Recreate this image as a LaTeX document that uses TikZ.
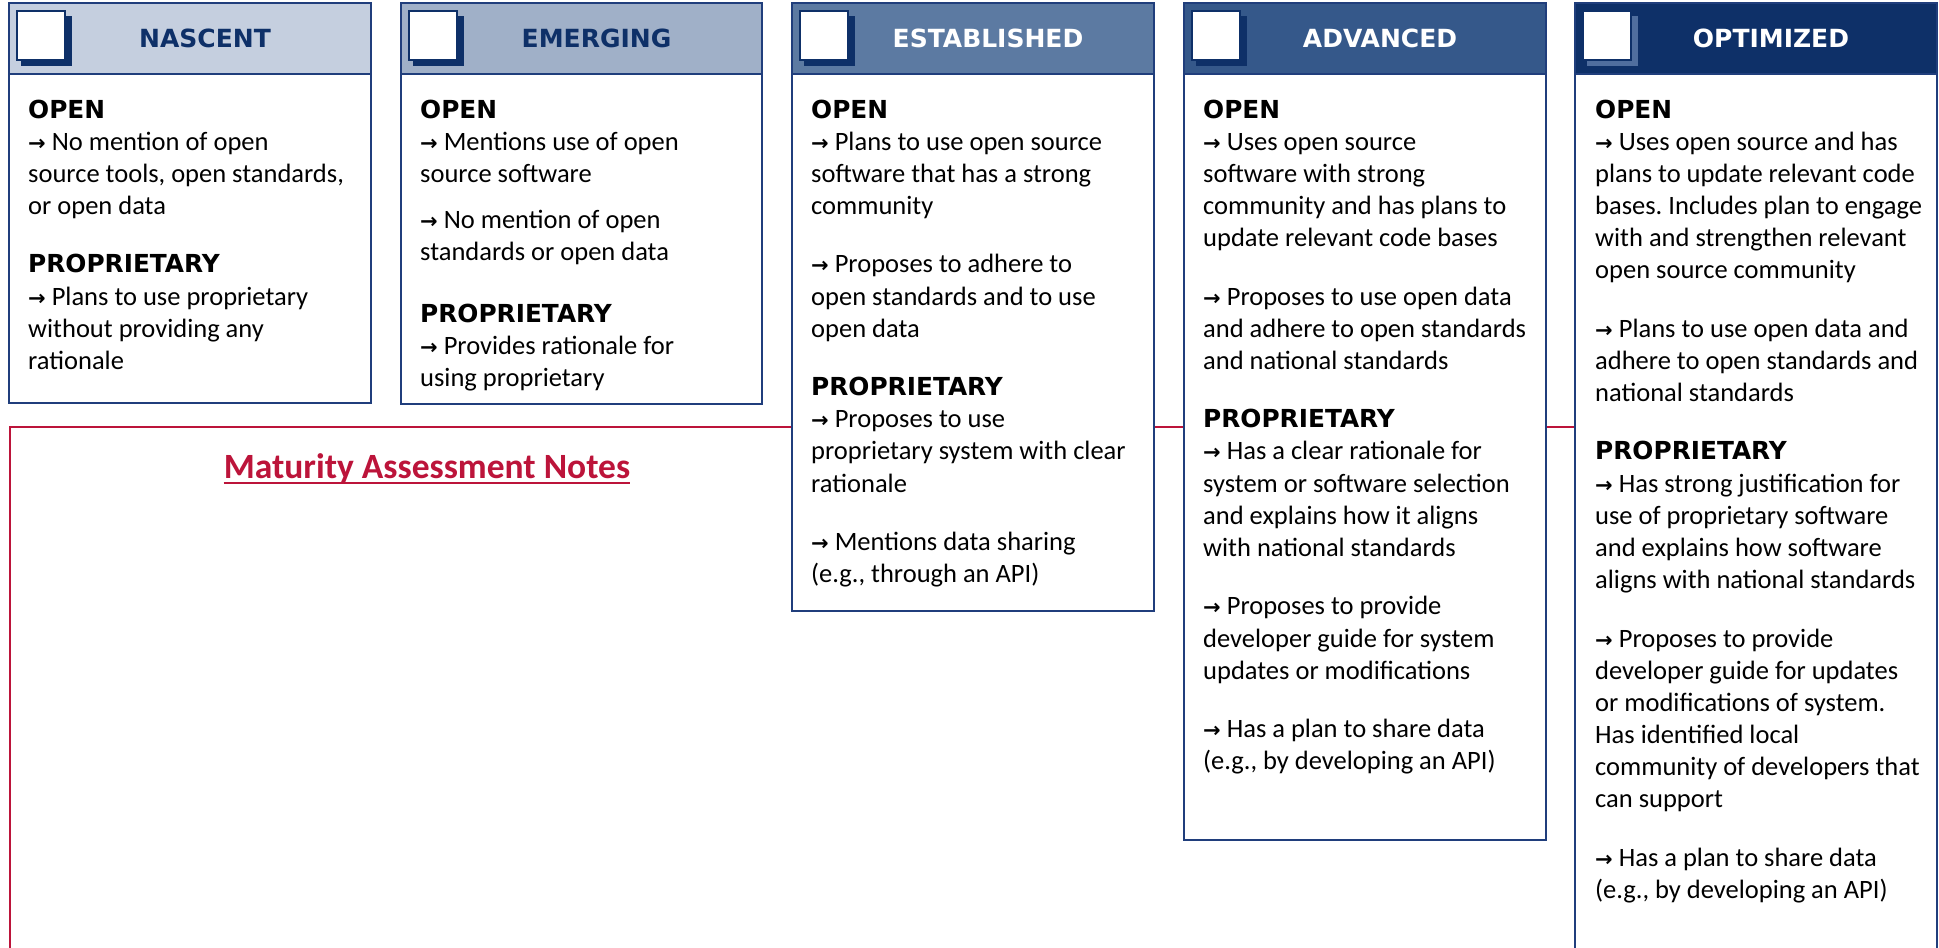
\documentclass[tikz,border=0pt]{standalone}
\usepackage{fontspec}
\setmainfont{Carlito}
\newfontfamily\headfont{DejaVu Sans}
\newfontfamily\arrowfont{DejaVu Sans}
\frenchspacing

\definecolor{navy}{RGB}{14,48,104}
\definecolor{lvlA}{RGB}{197,207,223}
\definecolor{lvlB}{RGB}{160,176,200}
\definecolor{lvlC}{RGB}{92,122,162}
\definecolor{lvlD}{RGB}{53,88,138}
\definecolor{lvlE}{RGB}{14,48,104}
\definecolor{cardline}{RGB}{32,62,124}
\definecolor{notered}{RGB}{188,20,58}
\definecolor{shadowlight}{RGB}{80,110,158}

% body text of a card: first baseline sits on the node's base
\newcommand\cardtext[1]{\vtop{\hsize=420pt\parskip=0pt\parindent=0pt\raggedright
  \fontsize{26.5}{32.15}\selectfont\noindent #1\par}}
\newcommand\hd[1]{{\headfont\bfseries\fontsize{24.8}{32.15}\selectfont #1}}
\newcommand\ar{{\arrowfont\bfseries\fontsize{21}{32.15}\selectfont →}\ }
\newcommand\gap{26.3pt}

\tikzset{
  cardframe/.style={draw=cardline, line width=2pt},
  leveltitle/.style={font=\headfont\bfseries\fontsize{25}{30}\selectfont, inner sep=0pt, anchor=center},
  cardbody/.style={anchor=base west, inner sep=0pt, text=black},
}

% one maturity level card: name, left, right, bottom, header fill, title colour, shadow colour, title
\newcommand\levelcard[8]{%
  \fill[white] (#2,3) rectangle (#3,#4);
  \fill[#5] (#2,3) rectangle (#3,74);
  \draw[cardframe] (#2,74) -- (#3,74);
  \draw[cardframe] (#2,3) rectangle (#3,#4);
  \fill[#7] ({#2+12},16) rectangle ({#2+63},66);
  \filldraw[fill=white, draw=navy, line width=1.2pt] ({#2+8},11) rectangle ({#2+56},60);
  \node[leveltitle, text=#6] (#1-title) at ({(#2+#3)/2+15},38.5) {#8};
}

\begin{document}
\begin{tikzpicture}[x=1pt,y=-1pt]
\useasboundingbox (0,0) rectangle (1939,948);
\clip (0,0) rectangle (1939,948);
\fill[white] (0,0) rectangle (1939,948);

% notes panel behind the cards
\draw[notered, line width=2.5pt] (10,427) rectangle (1930,1000);
\node[anchor=base, inner sep=0pt, text=notered] (notes) at (427,478)
  {\bfseries\fontsize{35.5}{40}\selectfont Maturity Assessment Notes};
\draw[notered, line width=2.8pt] ([yshift=-5pt]notes.base west) -- ([yshift=-5pt]notes.base east);

% cards
\levelcard{nascent}{9}{371}{403}{lvlA}{navy}{navy}{NASCENT}
\levelcard{emerging}{401}{762}{404}{lvlB}{navy}{navy}{EMERGING}
\levelcard{established}{792}{1154}{611}{lvlC}{white}{navy}{ESTABLISHED}
\levelcard{advanced}{1184}{1546}{840}{lvlD}{white}{navy}{ADVANCED}
\levelcard{optimized}{1575}{1937}{1000}{lvlE}{white}{shadowlight}{OPTIMIZED}

\node[cardbody] (nascent-body) at (28,118) {\cardtext{%
\hd{OPEN}\\
\ar No mention of open\\
source tools, open standards,\\
or open data\\[\gap]
\hd{PROPRIETARY}\\
\ar Plans to use proprietary\\
without providing any\\
rationale}};

\node[cardbody] (emerging-body) at (420,118) {\cardtext{%
\hd{OPEN}\\
\ar Mentions use of open\\
source software\\[13.6pt]
\ar No mention of open\\
standards or open data\\[30pt]
\hd{PROPRIETARY}\\
\ar Provides rationale for\\
using proprietary}};

\node[cardbody] (established-body) at (811,118) {\cardtext{%
\hd{OPEN}\\
\ar Plans to use open source\\
software that has a strong\\
community\\[\gap]
\ar Proposes to adhere to\\
open standards and to use\\
open data\\[\gap]
\hd{PROPRIETARY}\\
\ar Proposes to use\\
proprietary system with clear\\
rationale\\[\gap]
\ar Mentions data sharing\\
(e.g., through an API)}};

\node[cardbody] (advanced-body) at (1203,118) {\cardtext{%
\hd{OPEN}\\
\ar Uses open source\\
software with strong\\
community and has plans to\\
update relevant code bases\\[\gap]
\ar Proposes to use open data\\
and adhere to open standards\\
and national standards\\[\gap]
\hd{PROPRIETARY}\\
\ar Has a clear rationale for\\
system or software selection\\
and explains how it aligns\\
with national standards\\[\gap]
\ar Proposes to provide\\
developer guide for system\\
updates or modifications\\[\gap]
\ar Has a plan to share data\\
(e.g., by developing an API)}};

\node[cardbody] (optimized-body) at (1595,118) {\cardtext{%
\hd{OPEN}\\
\ar Uses open source and has\\
plans to update relevant code\\
bases. Includes plan to engage\\
with and strengthen relevant\\
open source community\\[\gap]
\ar Plans to use open data and\\
adhere to open standards and\\
national standards\\[\gap]
\hd{PROPRIETARY}\\
\ar Has strong justification for\\
use of proprietary software\\
and explains how software\\
aligns with national standards\\[\gap]
\ar Proposes to provide\\
developer guide for updates\\
or modifications of system.\\
Has identified local\\
community of developers that\\
can support\\[\gap]
\ar Has a plan to share data\\
(e.g., by developing an API)}};
\end{tikzpicture}
\end{document}
